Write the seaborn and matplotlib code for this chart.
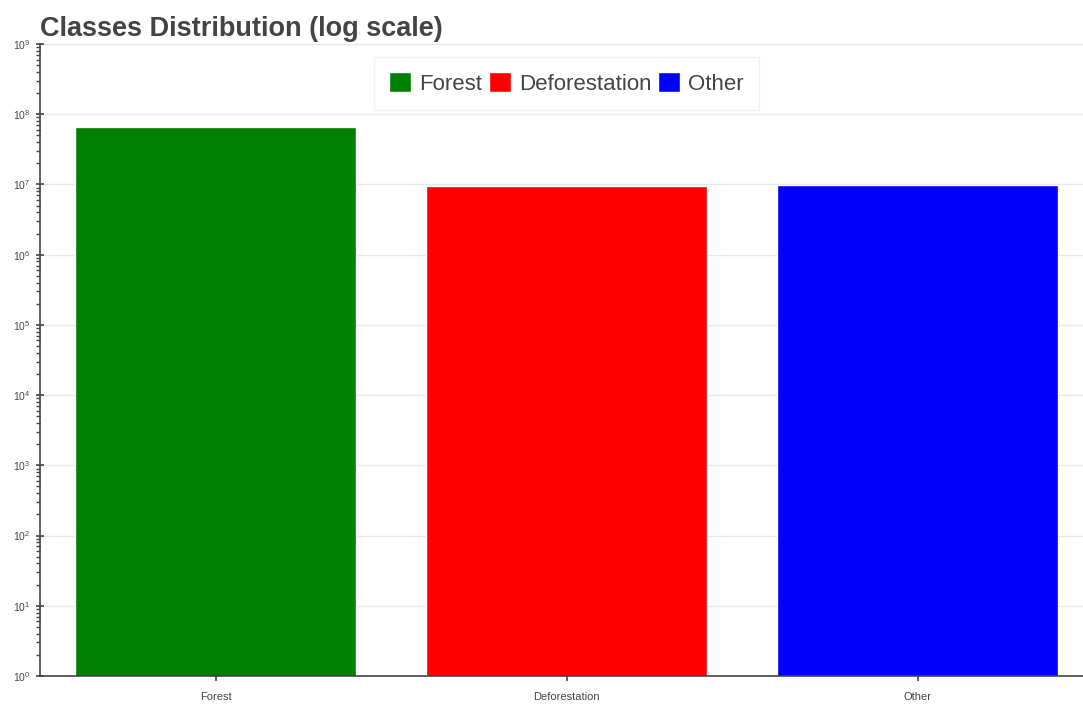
import pandas as pd
import matplotlib
matplotlib.use("Agg")
import matplotlib.pyplot as plt
from matplotlib.ticker import NullFormatter
import seaborn as sns

categories = ["Forest", "Deforestation", "Other"]
counts = [6.6e7, 9.5e6, 9.8e6]
colors = ["green", "red", "blue"]

sns.set_style("white")
plt.rcParams['font.family'] = ['Liberation Sans', 'DejaVu Sans']
plt.rcParams['mathtext.fontset'] = 'custom'
plt.rcParams['mathtext.rm'] = 'Liberation Sans'

df = pd.DataFrame({"category": categories, "count": counts})

fig = plt.figure(figsize=(10.83, 7.04), dpi=100)
# axes run slightly past the right edge of the figure, as in the reference
ax = fig.add_axes([40 / 1083, 1 - 676 / 704, (1093 - 40) / 1083, (676 - 44) / 704])

sns.barplot(data=df, x="category", y="count", hue="category",
            palette=colors, width=0.8, saturation=1, ax=ax, legend=True)
ax.set_yscale("log")
ax.set_ylim(1, 1e9)
ax.set_xlim(-0.5, 2.5)
ax.yaxis.set_minor_formatter(NullFormatter())

ax.set_xlabel("")
ax.set_ylabel("")

text_color = "#444444"
ax.yaxis.grid(True, which="major", color="#e8e8e8", linewidth=1)
ax.xaxis.grid(False)
ax.set_axisbelow(True)

for side in ["top", "right"]:
    ax.spines[side].set_visible(False)
for side in ["left", "bottom"]:
    ax.spines[side].set_color(text_color)
    ax.spines[side].set_linewidth(1.2)

ax.tick_params(axis="y", which="major", direction="inout", length=6, width=1.2,
               colors=text_color, labelsize=7.5, pad=4, left=True)
ax.tick_params(axis="y", which="minor", direction="out", length=3, width=1,
               colors=text_color, left=True)
ax.tick_params(axis="x", which="major", direction="inout", length=7, width=1.2,
               colors=text_color, labelsize=8, pad=8, bottom=True)

ax.set_title("Classes Distribution (log scale)", loc="left", fontsize=19.5,
             fontweight="bold", color=text_color, x=0.0, y=1.0, pad=6)

handles, labels = ax.get_legend_handles_labels()
leg = ax.legend(handles, labels, ncol=3, loc="upper center",
                bbox_to_anchor=(0.5, 0.98), fontsize=16, frameon=True,
                fancybox=False, handlelength=1.0, handleheight=1.0,
                handletextpad=0.35, columnspacing=0.3, borderpad=0.7,
                borderaxespad=0)
leg.get_frame().set_edgecolor("#eeeeee")
leg.get_frame().set_linewidth(1)
for t in leg.get_texts():
    t.set_color(text_color)

fig.savefig("out.png", dpi=100)
